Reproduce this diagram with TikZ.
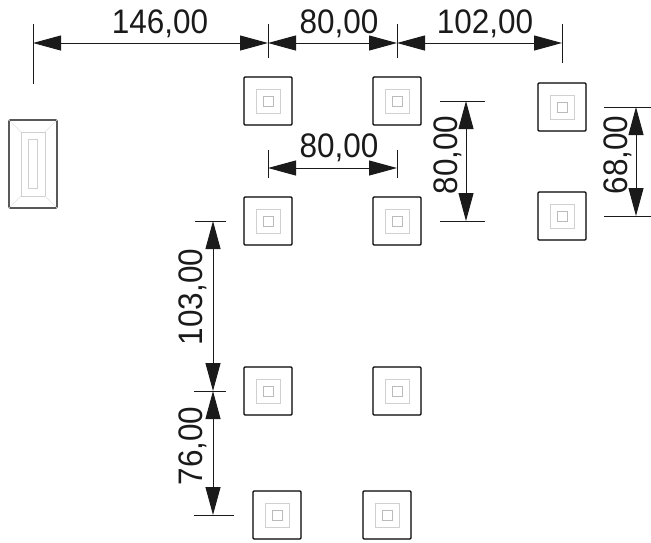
\documentclass[tikz,border=0pt]{standalone}
\usepackage{fontspec}
\usepackage{graphicx}
\setmainfont{Liberation Sans}
\usetikzlibrary{arrows.meta}
\definecolor{dimc}{HTML}{1A1A1A}
\definecolor{padc}{HTML}{D0D0D0}
\definecolor{diagc}{HTML}{E4E4E4}
\newcommand{\dimlab}[1]{\scalebox{1.0}[1.08]{#1}}
\tikzset{
  x=1pt,y=-1pt,
  dimline/.style={draw=dimc,line width=1pt,{Triangle[length=28pt,width=15pt]}-{Triangle[length=28pt,width=15pt]}},
  extline/.style={draw=dimc,line width=0.8pt},
  dimtext/.style={font=\fontsize{31.5}{31.5}\selectfont,text=dimc,inner sep=0pt,anchor=center},
  padouter/.style={draw=black,line width=1.1pt,rounded corners=1pt,fill=white},
  padmid/.style={draw=padc,line width=0.8pt},
  padin/.style={draw=padc!90!black,line width=0.8pt},
  paddiag/.style={draw=diagc,line width=0.6pt},
  pad/.pic={
    \draw[padouter] (-24,-24) rectangle (24,24);
    \draw[padmid] (-12,-12) rectangle (12,12);
    \draw[padin] (-5,-5) rectangle (5,5);
  }
}
\begin{document}
\begin{tikzpicture}
\useasboundingbox (0,0) rectangle (651,542);
% pads
\foreach \n/\px/\py in {a/268/101,b/397/101,c/562/107,d/268/221,e/397/221,f/562/216,g/268/391,h/397/391,i/277/515,j/387/515}{
  \pic at (\px,\py) {pad};
}
% long footing
\draw[padouter] (9,120) rectangle (57,208);
\draw[padmid] (21,132) rectangle (45,196);
\draw[padmid] (28,139) rectangle (37,188);
\draw[paddiag] (9,120)--(21,132) (57,120)--(45,132) (9,208)--(21,196) (57,208)--(45,196);
% dimension anchors
\coordinate (t0) at (33,43);
\coordinate (t1) at (268,43);
\coordinate (t2) at (397,43);
\coordinate (t3) at (562,43);
\coordinate (m1) at (268,168);
\coordinate (m2) at (397,168);
\coordinate (v1) at (466,101);
\coordinate (v2) at (466,221);
\coordinate (w1) at (636,107);
\coordinate (w2) at (636,216);
\coordinate (l1) at (213,221);
\coordinate (l2) at (213,391);
\coordinate (l3) at (213,515);
% extension lines
\draw[extline] (33,24)--(33,84);
\draw[extline] (268,24)--(268,58);
\draw[extline] (397,24)--(397,58);
\draw[extline] (562,24)--(562,63);
\draw[extline] (268,150)--(268,178);
\draw[extline] (397,150)--(397,178);
\draw[extline] (440,101)--(485,101);
\draw[extline] (440,221)--(485,221);
\draw[extline] (604,107)--(651,107);
\draw[extline] (604,216)--(651,216);
\draw[extline] (195,221)--(226,221);
\draw[extline] (194,391)--(226,391);
\draw[extline] (194,515)--(234,515);
% dimension lines
\draw[dimline] (t0)--(t1);
\draw[dimline] (t1)--(t2);
\draw[dimline] (t2)--(t3);
\draw[dimline] (m1)--(m2);
\draw[dimline] (v1)--(v2);
\draw[dimline] (w1)--(w2);
\draw[dimline] (l1)--(l2);
\draw[dimline] (l2)--(l3);
% labels
\node[dimtext] (n146) at (160,24) {\dimlab{146,00}};
\node[dimtext] (n80a) at (339,24) {\dimlab{80,00}};
\node[dimtext] (n102) at (485,24) {\dimlab{102,00}};
\node[dimtext] (n80b) at (339,148) {\dimlab{80,00}};
\node[dimtext,rotate=90] (n80c) at (447.5,155) {\dimlab{80,00}};
\node[dimtext,rotate=90] (n68) at (618,155) {\dimlab{68,00}};
\node[dimtext,rotate=90] (n103) at (193,297) {\dimlab{103,00}};
\node[dimtext,rotate=90] (n76) at (193,446) {\dimlab{76,00}};
\end{tikzpicture}
\end{document}
